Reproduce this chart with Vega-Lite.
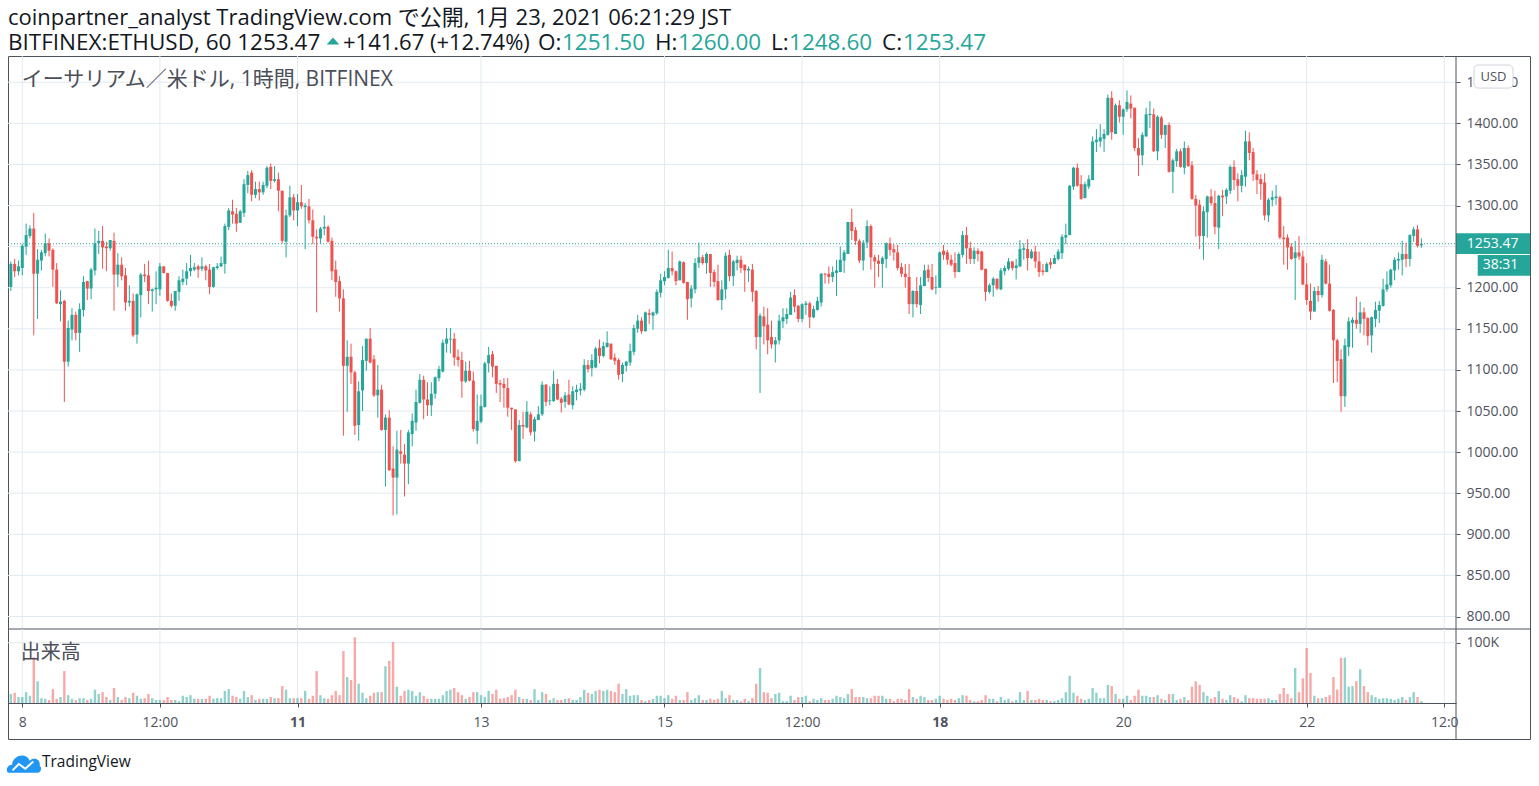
{
  "$schema": "https://vega.github.io/schema/vega-lite/v6.json",
  "width": 1522,
  "height": 683,
  "autosize": {"type": "none"},
  "padding": {"left": 8, "top": 56, "right": 9, "bottom": 47},
  "background": "#ffffff",
  "config": {
    "font": "Open Sans, Noto Sans CJK JP",
    "view": {"stroke": "#4c525e", "strokeWidth": 1},
    "axis": {"labelFont": "Open Sans", "labelFontSize": 14, "labelColor": "#50535e", "tickColor": "#50535e", "domainColor": "#4c525e", "tickSize": 4, "grid": false}
  },
  "datasets": {
    "py": [{"p":800},{"p":850},{"p":900},{"p":950},{"p":1000},{"p":1050},{"p":1100},{"p":1150},{"p":1200},{"p":1250},{"p":1300},{"p":1350},{"p":1400},{"p":1450}],
    "gx": [{"t":0},{"t":36},{"t":72},{"t":120},{"t":168},{"t":204},{"t":240},{"t":288},{"t":336},{"t":372}],
    "bars": [
{"t":-3,"o":1201,"h":1232,"l":1196,"c":1229,"v":15},
{"t":-2,"o":1229,"h":1235,"l":1213,"c":1220,"v":17},
{"t":-1,"o":1220,"h":1233,"l":1215,"c":1226,"v":10},
{"t":0,"o":1224,"h":1253,"l":1215,"c":1251,"v":10},
{"t":1,"o":1250,"h":1278,"l":1240,"c":1264,"v":18},
{"t":2,"o":1263,"h":1276,"l":1260,"c":1272,"v":12},
{"t":3,"o":1272,"h":1291,"l":1142,"c":1217,"v":76},
{"t":4,"o":1217,"h":1247,"l":1162,"c":1234,"v":36},
{"t":5,"o":1233,"h":1246,"l":1221,"c":1243,"v":8},
{"t":6,"o":1242,"h":1266,"l":1238,"c":1254,"v":7},
{"t":7,"o":1254,"h":1260,"l":1238,"c":1245,"v":5},
{"t":8,"o":1246,"h":1248,"l":1201,"c":1222,"v":23},
{"t":9,"o":1222,"h":1230,"l":1180,"c":1181,"v":7},
{"t":10,"o":1180,"h":1197,"l":1159,"c":1183,"v":10},
{"t":11,"o":1184,"h":1185,"l":1061,"c":1110,"v":53},
{"t":12,"o":1110,"h":1160,"l":1104,"c":1151,"v":13},
{"t":13,"o":1149,"h":1175,"l":1136,"c":1167,"v":7},
{"t":14,"o":1167,"h":1171,"l":1136,"c":1145,"v":5},
{"t":15,"o":1145,"h":1181,"l":1122,"c":1174,"v":8},
{"t":16,"o":1173,"h":1214,"l":1165,"c":1207,"v":8},
{"t":17,"o":1208,"h":1208,"l":1185,"c":1199,"v":5},
{"t":18,"o":1199,"h":1224,"l":1186,"c":1222,"v":7},
{"t":19,"o":1221,"h":1272,"l":1215,"c":1254,"v":22},
{"t":20,"o":1254,"h":1269,"l":1241,"c":1257,"v":15},
{"t":21,"o":1257,"h":1275,"l":1223,"c":1249,"v":18},
{"t":22,"o":1250,"h":1256,"l":1220,"c":1248,"v":10},
{"t":23,"o":1248,"h":1258,"l":1245,"c":1258,"v":5},
{"t":24,"o":1257,"h":1267,"l":1172,"c":1216,"v":25},
{"t":25,"o":1216,"h":1242,"l":1201,"c":1228,"v":10},
{"t":26,"o":1228,"h":1237,"l":1209,"c":1214,"v":5},
{"t":27,"o":1215,"h":1224,"l":1172,"c":1182,"v":10},
{"t":28,"o":1182,"h":1203,"l":1177,"c":1184,"v":8},
{"t":29,"o":1184,"h":1193,"l":1140,"c":1142,"v":17},
{"t":30,"o":1143,"h":1193,"l":1132,"c":1192,"v":12},
{"t":31,"o":1191,"h":1218,"l":1164,"c":1216,"v":7},
{"t":32,"o":1216,"h":1229,"l":1207,"c":1214,"v":8},
{"t":33,"o":1215,"h":1233,"l":1180,"c":1196,"v":15},
{"t":34,"o":1196,"h":1199,"l":1171,"c":1198,"v":8},
{"t":35,"o":1198,"h":1220,"l":1180,"c":1200,"v":5},
{"t":36,"o":1198,"h":1230,"l":1190,"c":1226,"v":5},
{"t":37,"o":1226,"h":1226,"l":1217,"c":1218,"v":5},
{"t":38,"o":1218,"h":1218,"l":1183,"c":1184,"v":10},
{"t":39,"o":1184,"h":1193,"l":1176,"c":1178,"v":5},
{"t":40,"o":1178,"h":1196,"l":1172,"c":1196,"v":5},
{"t":41,"o":1195,"h":1214,"l":1184,"c":1209,"v":3},
{"t":42,"o":1207,"h":1222,"l":1203,"c":1211,"v":12},
{"t":43,"o":1211,"h":1230,"l":1203,"c":1220,"v":10},
{"t":44,"o":1220,"h":1240,"l":1214,"c":1224,"v":13},
{"t":45,"o":1222,"h":1230,"l":1220,"c":1225,"v":7},
{"t":46,"o":1226,"h":1228,"l":1212,"c":1222,"v":7},
{"t":47,"o":1223,"h":1237,"l":1220,"c":1226,"v":7},
{"t":48,"o":1226,"h":1228,"l":1209,"c":1221,"v":7},
{"t":49,"o":1222,"h":1229,"l":1192,"c":1201,"v":12},
{"t":50,"o":1201,"h":1225,"l":1200,"c":1225,"v":7},
{"t":51,"o":1224,"h":1230,"l":1222,"c":1226,"v":8},
{"t":52,"o":1226,"h":1238,"l":1225,"c":1230,"v":8},
{"t":53,"o":1229,"h":1278,"l":1217,"c":1275,"v":20},
{"t":54,"o":1274,"h":1297,"l":1270,"c":1294,"v":23},
{"t":55,"o":1293,"h":1307,"l":1278,"c":1289,"v":12},
{"t":56,"o":1290,"h":1297,"l":1268,"c":1278,"v":10},
{"t":57,"o":1279,"h":1295,"l":1279,"c":1293,"v":7},
{"t":58,"o":1291,"h":1332,"l":1286,"c":1326,"v":20},
{"t":59,"o":1325,"h":1342,"l":1315,"c":1337,"v":10},
{"t":60,"o":1340,"h":1343,"l":1305,"c":1313,"v":13},
{"t":61,"o":1313,"h":1329,"l":1309,"c":1320,"v":5},
{"t":62,"o":1320,"h":1329,"l":1306,"c":1316,"v":7},
{"t":63,"o":1316,"h":1329,"l":1313,"c":1325,"v":7},
{"t":64,"o":1324,"h":1348,"l":1321,"c":1346,"v":7},
{"t":65,"o":1347,"h":1351,"l":1320,"c":1330,"v":10},
{"t":66,"o":1330,"h":1348,"l":1328,"c":1332,"v":8},
{"t":67,"o":1332,"h":1340,"l":1293,"c":1318,"v":8},
{"t":68,"o":1318,"h":1318,"l":1254,"c":1257,"v":28},
{"t":69,"o":1256,"h":1295,"l":1237,"c":1288,"v":22},
{"t":70,"o":1288,"h":1324,"l":1286,"c":1310,"v":8},
{"t":71,"o":1310,"h":1314,"l":1282,"c":1294,"v":8},
{"t":72,"o":1294,"h":1314,"l":1275,"c":1304,"v":8},
{"t":73,"o":1304,"h":1325,"l":1296,"c":1299,"v":8},
{"t":74,"o":1298,"h":1303,"l":1247,"c":1300,"v":20},
{"t":75,"o":1299,"h":1308,"l":1278,"c":1282,"v":7},
{"t":76,"o":1282,"h":1295,"l":1253,"c":1262,"v":12},
{"t":77,"o":1262,"h":1271,"l":1170,"c":1260,"v":53},
{"t":78,"o":1260,"h":1274,"l":1254,"c":1272,"v":13},
{"t":79,"o":1272,"h":1288,"l":1264,"c":1274,"v":8},
{"t":80,"o":1274,"h":1276,"l":1255,"c":1256,"v":7},
{"t":81,"o":1257,"h":1261,"l":1209,"c":1220,"v":13},
{"t":82,"o":1222,"h":1233,"l":1189,"c":1207,"v":20},
{"t":83,"o":1208,"h":1214,"l":1171,"c":1187,"v":13},
{"t":84,"o":1187,"h":1198,"l":1020,"c":1105,"v":86},
{"t":85,"o":1105,"h":1136,"l":1049,"c":1116,"v":43},
{"t":86,"o":1116,"h":1132,"l":1083,"c":1097,"v":38},
{"t":87,"o":1097,"h":1099,"l":1021,"c":1032,"v":109},
{"t":88,"o":1033,"h":1086,"l":1014,"c":1074,"v":32},
{"t":89,"o":1075,"h":1129,"l":1050,"c":1112,"v":17},
{"t":90,"o":1111,"h":1138,"l":1099,"c":1138,"v":8},
{"t":91,"o":1138,"h":1151,"l":1108,"c":1109,"v":12},
{"t":92,"o":1113,"h":1118,"l":1067,"c":1069,"v":17},
{"t":93,"o":1069,"h":1106,"l":1042,"c":1076,"v":18},
{"t":94,"o":1076,"h":1082,"l":1026,"c":1027,"v":18},
{"t":95,"o":1027,"h":1046,"l":958,"c":1042,"v":61},
{"t":96,"o":1042,"h":1051,"l":977,"c":978,"v":70},
{"t":97,"o":980,"h":1007,"l":923,"c":969,"v":101},
{"t":98,"o":969,"h":1026,"l":924,"c":1003,"v":27},
{"t":99,"o":1001,"h":1027,"l":986,"c":998,"v":12},
{"t":100,"o":997,"h":1010,"l":946,"c":986,"v":20},
{"t":101,"o":986,"h":1027,"l":961,"c":1024,"v":22},
{"t":102,"o":1022,"h":1047,"l":1007,"c":1038,"v":20},
{"t":103,"o":1036,"h":1076,"l":1026,"c":1061,"v":12},
{"t":104,"o":1060,"h":1095,"l":1059,"c":1088,"v":18},
{"t":105,"o":1088,"h":1093,"l":1040,"c":1064,"v":12},
{"t":106,"o":1064,"h":1085,"l":1044,"c":1057,"v":7},
{"t":107,"o":1057,"h":1085,"l":1044,"c":1071,"v":7},
{"t":108,"o":1071,"h":1092,"l":1065,"c":1091,"v":7},
{"t":109,"o":1090,"h":1105,"l":1086,"c":1101,"v":7},
{"t":110,"o":1098,"h":1137,"l":1097,"c":1133,"v":13},
{"t":111,"o":1132,"h":1151,"l":1121,"c":1138,"v":20},
{"t":112,"o":1137,"h":1151,"l":1120,"c":1138,"v":22},
{"t":113,"o":1138,"h":1145,"l":1105,"c":1115,"v":25},
{"t":114,"o":1116,"h":1125,"l":1104,"c":1112,"v":18},
{"t":115,"o":1112,"h":1122,"l":1066,"c":1086,"v":13},
{"t":116,"o":1086,"h":1110,"l":1084,"c":1099,"v":7},
{"t":117,"o":1099,"h":1111,"l":1086,"c":1087,"v":10},
{"t":118,"o":1087,"h":1098,"l":1025,"c":1028,"v":18},
{"t":119,"o":1026,"h":1070,"l":1010,"c":1038,"v":18},
{"t":120,"o":1037,"h":1070,"l":1035,"c":1056,"v":13},
{"t":121,"o":1055,"h":1110,"l":1054,"c":1108,"v":10},
{"t":122,"o":1108,"h":1128,"l":1097,"c":1118,"v":20},
{"t":123,"o":1119,"h":1123,"l":1091,"c":1104,"v":15},
{"t":124,"o":1105,"h":1105,"l":1072,"c":1083,"v":22},
{"t":125,"o":1084,"h":1088,"l":1061,"c":1082,"v":7},
{"t":126,"o":1083,"h":1090,"l":1054,"c":1078,"v":8},
{"t":127,"o":1078,"h":1090,"l":1043,"c":1054,"v":10},
{"t":128,"o":1054,"h":1054,"l":1027,"c":1052,"v":13},
{"t":129,"o":1052,"h":1052,"l":987,"c":989,"v":22},
{"t":130,"o":989,"h":1039,"l":989,"c":1033,"v":10},
{"t":131,"o":1033,"h":1049,"l":1016,"c":1031,"v":7},
{"t":132,"o":1030,"h":1062,"l":1029,"c":1049,"v":7},
{"t":133,"o":1046,"h":1049,"l":1020,"c":1024,"v":5},
{"t":134,"o":1025,"h":1043,"l":1013,"c":1040,"v":23},
{"t":135,"o":1039,"h":1056,"l":1039,"c":1046,"v":5},
{"t":136,"o":1046,"h":1086,"l":1044,"c":1082,"v":18},
{"t":137,"o":1082,"h":1083,"l":1056,"c":1061,"v":15},
{"t":138,"o":1062,"h":1080,"l":1057,"c":1063,"v":5},
{"t":139,"o":1062,"h":1099,"l":1061,"c":1083,"v":8},
{"t":140,"o":1083,"h":1089,"l":1063,"c":1064,"v":5},
{"t":141,"o":1065,"h":1067,"l":1048,"c":1060,"v":5},
{"t":142,"o":1061,"h":1073,"l":1054,"c":1069,"v":7},
{"t":143,"o":1070,"h":1088,"l":1057,"c":1058,"v":8},
{"t":144,"o":1057,"h":1080,"l":1052,"c":1074,"v":5},
{"t":145,"o":1073,"h":1082,"l":1063,"c":1076,"v":5},
{"t":146,"o":1075,"h":1084,"l":1069,"c":1077,"v":10},
{"t":147,"o":1076,"h":1113,"l":1074,"c":1106,"v":22},
{"t":148,"o":1106,"h":1112,"l":1097,"c":1101,"v":17},
{"t":149,"o":1102,"h":1119,"l":1092,"c":1112,"v":15},
{"t":150,"o":1103,"h":1128,"l":1102,"c":1126,"v":20},
{"t":151,"o":1127,"h":1137,"l":1108,"c":1117,"v":22},
{"t":152,"o":1117,"h":1134,"l":1115,"c":1129,"v":20},
{"t":153,"o":1128,"h":1147,"l":1127,"c":1133,"v":22},
{"t":154,"o":1132,"h":1132,"l":1112,"c":1113,"v":20},
{"t":155,"o":1115,"h":1120,"l":1106,"c":1111,"v":18},
{"t":156,"o":1112,"h":1114,"l":1088,"c":1094,"v":32},
{"t":157,"o":1095,"h":1109,"l":1085,"c":1106,"v":15},
{"t":158,"o":1105,"h":1111,"l":1098,"c":1110,"v":23},
{"t":159,"o":1109,"h":1132,"l":1105,"c":1123,"v":12},
{"t":160,"o":1122,"h":1155,"l":1118,"c":1151,"v":13},
{"t":161,"o":1150,"h":1167,"l":1145,"c":1160,"v":13},
{"t":162,"o":1160,"h":1164,"l":1144,"c":1147,"v":5},
{"t":163,"o":1147,"h":1171,"l":1147,"c":1170,"v":3},
{"t":164,"o":1169,"h":1174,"l":1156,"c":1167,"v":5},
{"t":165,"o":1166,"h":1171,"l":1149,"c":1170,"v":7},
{"t":166,"o":1169,"h":1198,"l":1167,"c":1195,"v":12},
{"t":167,"o":1194,"h":1217,"l":1188,"c":1209,"v":12},
{"t":168,"o":1208,"h":1220,"l":1203,"c":1213,"v":8},
{"t":169,"o":1212,"h":1246,"l":1211,"c":1224,"v":13},
{"t":170,"o":1224,"h":1244,"l":1215,"c":1220,"v":7},
{"t":171,"o":1220,"h":1221,"l":1203,"c":1208,"v":12},
{"t":172,"o":1209,"h":1233,"l":1209,"c":1232,"v":5},
{"t":173,"o":1231,"h":1232,"l":1205,"c":1206,"v":5},
{"t":174,"o":1207,"h":1207,"l":1161,"c":1186,"v":18},
{"t":175,"o":1187,"h":1203,"l":1176,"c":1199,"v":5},
{"t":176,"o":1198,"h":1236,"l":1193,"c":1230,"v":8},
{"t":177,"o":1230,"h":1255,"l":1224,"c":1237,"v":13},
{"t":178,"o":1237,"h":1240,"l":1228,"c":1230,"v":5},
{"t":179,"o":1230,"h":1243,"l":1217,"c":1241,"v":5},
{"t":180,"o":1241,"h":1241,"l":1201,"c":1218,"v":7},
{"t":181,"o":1219,"h":1222,"l":1201,"c":1207,"v":5},
{"t":182,"o":1208,"h":1228,"l":1184,"c":1185,"v":7},
{"t":183,"o":1185,"h":1209,"l":1173,"c":1198,"v":20},
{"t":184,"o":1198,"h":1243,"l":1186,"c":1239,"v":8},
{"t":185,"o":1240,"h":1246,"l":1208,"c":1214,"v":13},
{"t":186,"o":1214,"h":1234,"l":1202,"c":1232,"v":5},
{"t":187,"o":1230,"h":1239,"l":1221,"c":1234,"v":5},
{"t":188,"o":1234,"h":1239,"l":1218,"c":1224,"v":3},
{"t":189,"o":1228,"h":1228,"l":1195,"c":1221,"v":7},
{"t":190,"o":1221,"h":1226,"l":1207,"c":1223,"v":3},
{"t":191,"o":1222,"h":1229,"l":1183,"c":1195,"v":8},
{"t":192,"o":1196,"h":1197,"l":1125,"c":1140,"v":32},
{"t":193,"o":1140,"h":1169,"l":1072,"c":1166,"v":58},
{"t":194,"o":1165,"h":1177,"l":1131,"c":1153,"v":18},
{"t":195,"o":1155,"h":1175,"l":1119,"c":1136,"v":17},
{"t":196,"o":1140,"h":1160,"l":1126,"c":1131,"v":8},
{"t":197,"o":1131,"h":1140,"l":1109,"c":1136,"v":15},
{"t":198,"o":1136,"h":1167,"l":1131,"c":1160,"v":17},
{"t":199,"o":1159,"h":1175,"l":1151,"c":1164,"v":3},
{"t":200,"o":1162,"h":1175,"l":1156,"c":1168,"v":3},
{"t":201,"o":1167,"h":1195,"l":1167,"c":1188,"v":12},
{"t":202,"o":1191,"h":1198,"l":1170,"c":1177,"v":5},
{"t":203,"o":1178,"h":1179,"l":1158,"c":1162,"v":10},
{"t":204,"o":1162,"h":1181,"l":1158,"c":1180,"v":10},
{"t":205,"o":1179,"h":1184,"l":1167,"c":1181,"v":12},
{"t":206,"o":1181,"h":1183,"l":1151,"c":1164,"v":3},
{"t":207,"o":1164,"h":1178,"l":1163,"c":1174,"v":7},
{"t":208,"o":1173,"h":1189,"l":1172,"c":1184,"v":5},
{"t":209,"o":1182,"h":1218,"l":1177,"c":1217,"v":8},
{"t":210,"o":1217,"h":1218,"l":1205,"c":1216,"v":5},
{"t":211,"o":1217,"h":1226,"l":1205,"c":1213,"v":5},
{"t":212,"o":1213,"h":1226,"l":1207,"c":1219,"v":7},
{"t":213,"o":1218,"h":1234,"l":1190,"c":1221,"v":12},
{"t":214,"o":1219,"h":1250,"l":1219,"c":1234,"v":10},
{"t":215,"o":1233,"h":1246,"l":1218,"c":1243,"v":8},
{"t":216,"o":1241,"h":1280,"l":1241,"c":1280,"v":15},
{"t":217,"o":1280,"h":1296,"l":1258,"c":1269,"v":23},
{"t":218,"o":1270,"h":1274,"l":1252,"c":1257,"v":10},
{"t":219,"o":1257,"h":1259,"l":1230,"c":1233,"v":10},
{"t":220,"o":1233,"h":1258,"l":1221,"c":1255,"v":10},
{"t":221,"o":1255,"h":1282,"l":1248,"c":1275,"v":8},
{"t":222,"o":1275,"h":1277,"l":1222,"c":1237,"v":8},
{"t":223,"o":1237,"h":1240,"l":1200,"c":1232,"v":12},
{"t":224,"o":1233,"h":1240,"l":1213,"c":1229,"v":12},
{"t":225,"o":1229,"h":1238,"l":1200,"c":1236,"v":12},
{"t":226,"o":1235,"h":1255,"l":1224,"c":1254,"v":7},
{"t":227,"o":1254,"h":1261,"l":1239,"c":1246,"v":7},
{"t":228,"o":1247,"h":1253,"l":1233,"c":1243,"v":3},
{"t":229,"o":1243,"h":1252,"l":1221,"c":1224,"v":7},
{"t":230,"o":1225,"h":1230,"l":1213,"c":1217,"v":7},
{"t":231,"o":1217,"h":1229,"l":1200,"c":1213,"v":5},
{"t":232,"o":1213,"h":1229,"l":1168,"c":1180,"v":23},
{"t":233,"o":1180,"h":1197,"l":1164,"c":1196,"v":10},
{"t":234,"o":1196,"h":1213,"l":1176,"c":1180,"v":7},
{"t":235,"o":1179,"h":1213,"l":1168,"c":1203,"v":12},
{"t":236,"o":1202,"h":1228,"l":1202,"c":1221,"v":10},
{"t":237,"o":1222,"h":1228,"l":1207,"c":1212,"v":5},
{"t":238,"o":1213,"h":1229,"l":1197,"c":1198,"v":5},
{"t":239,"o":1200,"h":1215,"l":1192,"c":1201,"v":7},
{"t":240,"o":1200,"h":1244,"l":1200,"c":1243,"v":12},
{"t":241,"o":1245,"h":1252,"l":1234,"c":1240,"v":7},
{"t":242,"o":1243,"h":1246,"l":1228,"c":1234,"v":5},
{"t":243,"o":1234,"h":1240,"l":1226,"c":1228,"v":7},
{"t":244,"o":1230,"h":1243,"l":1212,"c":1219,"v":5},
{"t":245,"o":1219,"h":1243,"l":1219,"c":1241,"v":8},
{"t":246,"o":1240,"h":1269,"l":1237,"c":1264,"v":13},
{"t":247,"o":1264,"h":1274,"l":1229,"c":1248,"v":12},
{"t":248,"o":1248,"h":1256,"l":1229,"c":1235,"v":5},
{"t":249,"o":1235,"h":1249,"l":1229,"c":1245,"v":3},
{"t":250,"o":1245,"h":1248,"l":1232,"c":1241,"v":3},
{"t":251,"o":1244,"h":1245,"l":1221,"c":1222,"v":5},
{"t":252,"o":1223,"h":1223,"l":1184,"c":1195,"v":13},
{"t":253,"o":1195,"h":1205,"l":1193,"c":1203,"v":7},
{"t":254,"o":1203,"h":1213,"l":1189,"c":1211,"v":7},
{"t":255,"o":1211,"h":1211,"l":1197,"c":1199,"v":3},
{"t":256,"o":1198,"h":1224,"l":1197,"c":1221,"v":10},
{"t":257,"o":1220,"h":1227,"l":1215,"c":1224,"v":5},
{"t":258,"o":1223,"h":1236,"l":1221,"c":1232,"v":7},
{"t":259,"o":1232,"h":1232,"l":1221,"c":1224,"v":3},
{"t":260,"o":1224,"h":1235,"l":1210,"c":1227,"v":5},
{"t":261,"o":1226,"h":1258,"l":1225,"c":1247,"v":18},
{"t":262,"o":1246,"h":1254,"l":1234,"c":1248,"v":5},
{"t":263,"o":1247,"h":1259,"l":1221,"c":1236,"v":20},
{"t":264,"o":1236,"h":1247,"l":1235,"c":1244,"v":5},
{"t":265,"o":1244,"h":1251,"l":1224,"c":1232,"v":5},
{"t":266,"o":1232,"h":1244,"l":1213,"c":1219,"v":7},
{"t":267,"o":1221,"h":1229,"l":1215,"c":1219,"v":5},
{"t":268,"o":1219,"h":1231,"l":1219,"c":1229,"v":5},
{"t":269,"o":1231,"h":1236,"l":1223,"c":1228,"v":3},
{"t":270,"o":1229,"h":1240,"l":1229,"c":1236,"v":3},
{"t":271,"o":1235,"h":1247,"l":1233,"c":1244,"v":5},
{"t":272,"o":1242,"h":1265,"l":1235,"c":1262,"v":8},
{"t":273,"o":1261,"h":1278,"l":1253,"c":1264,"v":18},
{"t":274,"o":1264,"h":1325,"l":1264,"c":1324,"v":45},
{"t":275,"o":1323,"h":1347,"l":1319,"c":1346,"v":17},
{"t":276,"o":1346,"h":1351,"l":1323,"c":1324,"v":12},
{"t":277,"o":1326,"h":1337,"l":1307,"c":1308,"v":7},
{"t":278,"o":1309,"h":1329,"l":1309,"c":1326,"v":5},
{"t":279,"o":1323,"h":1337,"l":1320,"c":1332,"v":7},
{"t":280,"o":1331,"h":1384,"l":1331,"c":1378,"v":25},
{"t":281,"o":1377,"h":1393,"l":1365,"c":1380,"v":17},
{"t":282,"o":1378,"h":1399,"l":1371,"c":1383,"v":8},
{"t":283,"o":1381,"h":1393,"l":1365,"c":1387,"v":8},
{"t":284,"o":1386,"h":1435,"l":1385,"c":1431,"v":30},
{"t":285,"o":1431,"h":1439,"l":1380,"c":1389,"v":28},
{"t":286,"o":1387,"h":1424,"l":1387,"c":1422,"v":15},
{"t":287,"o":1422,"h":1428,"l":1401,"c":1408,"v":7},
{"t":288,"o":1408,"h":1418,"l":1386,"c":1417,"v":7},
{"t":289,"o":1417,"h":1440,"l":1414,"c":1426,"v":12},
{"t":290,"o":1424,"h":1434,"l":1406,"c":1418,"v":5},
{"t":291,"o":1419,"h":1419,"l":1366,"c":1370,"v":12},
{"t":292,"o":1370,"h":1382,"l":1336,"c":1361,"v":22},
{"t":293,"o":1361,"h":1389,"l":1349,"c":1386,"v":12},
{"t":294,"o":1384,"h":1419,"l":1384,"c":1411,"v":12},
{"t":295,"o":1410,"h":1427,"l":1394,"c":1411.5,"v":10},
{"t":296,"o":1411,"h":1418,"l":1365,"c":1366,"v":10},
{"t":297,"o":1366,"h":1410,"l":1355,"c":1408,"v":13},
{"t":298,"o":1407,"h":1409,"l":1381,"c":1386,"v":7},
{"t":299,"o":1386,"h":1398,"l":1370,"c":1398,"v":5},
{"t":300,"o":1398,"h":1401,"l":1340,"c":1341,"v":15},
{"t":301,"o":1341,"h":1357,"l":1315,"c":1355,"v":15},
{"t":302,"o":1354,"h":1369,"l":1347,"c":1366,"v":5},
{"t":303,"o":1366,"h":1369,"l":1346,"c":1347,"v":7},
{"t":304,"o":1346,"h":1378,"l":1338,"c":1370,"v":10},
{"t":305,"o":1370,"h":1373,"l":1347,"c":1348,"v":5},
{"t":306,"o":1349,"h":1354,"l":1307,"c":1308,"v":27},
{"t":307,"o":1308,"h":1313,"l":1262,"c":1300,"v":36},
{"t":308,"o":1301,"h":1307,"l":1247,"c":1263,"v":30},
{"t":309,"o":1263,"h":1299,"l":1234,"c":1293,"v":18},
{"t":310,"o":1292,"h":1312,"l":1261,"c":1311,"v":12},
{"t":311,"o":1311,"h":1320,"l":1300,"c":1303,"v":7},
{"t":312,"o":1303,"h":1318,"l":1265,"c":1274,"v":10},
{"t":313,"o":1273,"h":1313,"l":1247,"c":1312,"v":20},
{"t":314,"o":1312,"h":1319,"l":1287,"c":1310,"v":7},
{"t":315,"o":1311,"h":1321,"l":1302,"c":1319,"v":5},
{"t":316,"o":1318,"h":1349,"l":1314,"c":1347,"v":13},
{"t":317,"o":1347,"h":1355,"l":1319,"c":1331,"v":10},
{"t":318,"o":1332,"h":1339,"l":1305,"c":1324,"v":7},
{"t":319,"o":1324,"h":1343,"l":1316,"c":1337,"v":3},
{"t":320,"o":1335,"h":1391,"l":1323,"c":1378,"v":13},
{"t":321,"o":1378,"h":1389,"l":1355,"c":1364,"v":8},
{"t":322,"o":1365,"h":1370,"l":1330,"c":1338,"v":8},
{"t":323,"o":1338,"h":1343,"l":1314,"c":1331,"v":7},
{"t":324,"o":1332,"h":1338,"l":1307,"c":1326,"v":7},
{"t":325,"o":1328,"h":1339,"l":1282,"c":1288,"v":7},
{"t":326,"o":1288,"h":1309,"l":1280,"c":1307,"v":8},
{"t":327,"o":1307,"h":1318,"l":1299,"c":1310,"v":5},
{"t":328,"o":1309,"h":1325,"l":1301,"c":1311,"v":5},
{"t":329,"o":1310,"h":1312,"l":1259,"c":1261,"v":15},
{"t":330,"o":1261,"h":1275,"l":1228,"c":1259,"v":25},
{"t":331,"o":1261,"h":1265,"l":1222,"c":1249,"v":15},
{"t":332,"o":1250,"h":1254,"l":1234,"c":1235,"v":8},
{"t":333,"o":1236,"h":1257,"l":1185,"c":1243,"v":58},
{"t":334,"o":1243,"h":1263,"l":1234,"c":1238,"v":18},
{"t":335,"o":1238,"h":1245,"l":1203,"c":1204,"v":41},
{"t":336,"o":1204,"h":1230,"l":1179,"c":1185,"v":91},
{"t":337,"o":1184,"h":1205,"l":1161,"c":1171,"v":50},
{"t":338,"o":1171,"h":1201,"l":1171,"c":1196,"v":12},
{"t":339,"o":1196,"h":1202,"l":1183,"c":1191,"v":8},
{"t":340,"o":1191,"h":1240,"l":1188,"c":1234,"v":8},
{"t":341,"o":1232,"h":1235,"l":1204,"c":1205,"v":10},
{"t":342,"o":1205,"h":1228,"l":1171,"c":1172,"v":13},
{"t":343,"o":1173,"h":1174,"l":1084,"c":1136,"v":43},
{"t":344,"o":1136,"h":1138,"l":1085,"c":1111,"v":22},
{"t":345,"o":1113,"h":1125,"l":1049,"c":1068,"v":75},
{"t":346,"o":1068,"h":1138,"l":1055,"c":1130,"v":75},
{"t":347,"o":1128,"h":1164,"l":1117,"c":1159,"v":27},
{"t":348,"o":1157,"h":1164,"l":1127,"c":1161,"v":28},
{"t":349,"o":1161,"h":1189,"l":1150,"c":1156,"v":36},
{"t":350,"o":1156,"h":1183,"l":1145,"c":1170,"v":56},
{"t":351,"o":1170,"h":1176,"l":1142,"c":1162,"v":28},
{"t":352,"o":1163,"h":1164,"l":1130,"c":1141,"v":18},
{"t":353,"o":1142,"h":1165,"l":1121,"c":1164,"v":13},
{"t":354,"o":1162,"h":1183,"l":1152,"c":1173,"v":10},
{"t":355,"o":1172,"h":1184,"l":1157,"c":1179,"v":7},
{"t":356,"o":1178,"h":1211,"l":1177,"c":1198,"v":8},
{"t":357,"o":1198,"h":1220,"l":1195,"c":1204,"v":8},
{"t":358,"o":1203,"h":1223,"l":1200,"c":1222,"v":7},
{"t":359,"o":1221,"h":1237,"l":1209,"c":1234,"v":5},
{"t":360,"o":1233,"h":1243,"l":1222,"c":1235,"v":7},
{"t":361,"o":1234,"h":1257,"l":1215,"c":1241,"v":10},
{"t":362,"o":1241,"h":1255,"l":1225,"c":1235,"v":5},
{"t":363,"o":1235,"h":1265,"l":1226,"c":1264,"v":10},
{"t":364,"o":1263,"h":1274,"l":1256,"c":1271,"v":18},
{"t":365,"o":1271,"h":1276,"l":1249,"c":1251,"v":10},
{"t":366,"o":1251.5,"h":1260,"l":1248.6,"c":1253.47,"v":3}
    ]
  },
  "data": {"name": "bars"},
  "layer": [
    {
      "layer": [
        {
          "data": {"name": "py"},
          "mark": {"type": "rule", "color": "#e1eaf1", "strokeWidth": 1},
          "encoding": {
            "y": {"field": "p", "type": "quantitative"},
            "x": {"datum": -3.74},
            "x2": {"datum": 375.07}
          }
        },
        {
          "data": {"name": "gx"},
          "mark": {"type": "rule", "color": "#e1eaf1", "strokeWidth": 1},
          "encoding": {
            "x": {"field": "t", "type": "quantitative"},
            "y": {"datum": 1481.9},
            "y2": {"datum": 784.8}
          }
        },
        {
          "data": {"values": [{}]},
          "mark": {"type": "rule", "color": "#26a69a", "strokeWidth": 1, "strokeDash": [1, 2]},
          "encoding": {
            "y": {"datum": 1253.47},
            "x": {"datum": -3.74},
            "x2": {"datum": 375.07}
          }
        },
        {
          "mark": {"type": "rule", "strokeWidth": 1},
          "encoding": {
            "x": {
              "field": "t", "type": "quantitative",
              "scale": {"domain": [-3.74, 375.07], "range": [0, 1448], "nice": false, "zero": false, "padding": 0},
              "axis": {
                "orient": "bottom", "offset": -36, "title": null,
                "values": [0, 36, 72, 120, 168, 204, 240, 288, 336, 372],
                "labelExpr": "datum.value == 0 ? '8' : datum.value == 36 ? '12:00' : datum.value == 72 ? '11' : datum.value == 120 ? '13' : datum.value == 168 ? '15' : datum.value == 204 ? '12:00' : datum.value == 240 ? '18' : datum.value == 288 ? '20' : datum.value == 336 ? '22' : '12:0'",
                "labelFontWeight": {"condition": {"test": "datum.value == 72 || datum.value == 240", "value": "bold"}, "value": "normal"},
                "labelPadding": 8, "labelFlush": false, "labelOverlap": false, "labelBound": false
              }
            },
            "y": {
              "field": "l", "type": "quantitative",
              "scale": {"domain": [784.8, 1481.9], "range": [573, 0], "nice": false, "zero": false},
              "axis": {
                "orient": "right", "offset": -74, "title": null,
                "values": [800, 850, 900, 950, 1000, 1050, 1100, 1150, 1200, 1300, 1350, 1400, 1450],
                "format": ".2f", "domain": false, "labelPadding": 6, "labelFlush": false, "labelOverlap": false, "labelBaseline": "middle"
              }
            },
            "y2": {"field": "h"},
            "color": {"condition": {"test": "datum.c >= datum.o", "value": "#26a69a"}, "value": "#ef5350"}
          }
        },
        {
          "mark": {"type": "bar", "size": 3},
          "encoding": {
            "x": {"field": "t", "type": "quantitative"},
            "y": {"field": "o", "type": "quantitative"},
            "y2": {"field": "c"},
            "color": {"condition": {"test": "datum.c >= datum.o", "value": "#26a69a"}, "value": "#ef5350"}
          }
        },
        {
          "data": {"values": [{}]},
          "mark": {"type": "rect", "color": "#26a69a"},
          "encoding": {
            "x": {"datum": 375.07}, "x2": {"datum": 394.43},
            "y": {"datum": 1266.2}, "y2": {"datum": 1241.0}
          }
        },
        {
          "data": {"values": [{}]},
          "mark": {"type": "text", "align": "left", "baseline": "middle", "fontSize": 14, "color": "#ffffff", "font": "Open Sans"},
          "encoding": {
            "x": {"datum": 377.87}, "y": {"datum": 1253.5},
            "text": {"value": "1253.47"}
          }
        },
        {
          "data": {"values": [{}]},
          "mark": {"type": "rect", "color": "#26a69a"},
          "encoding": {
            "x": {"datum": 380.75}, "x2": {"datum": 394.43},
            "y": {"datum": 1239.8}, "y2": {"datum": 1214.6}
          }
        },
        {
          "data": {"values": [{}]},
          "mark": {"type": "text", "align": "center", "baseline": "middle", "fontSize": 14, "color": "#ffffff", "font": "Open Sans"},
          "encoding": {
            "x": {"datum": 386.71}, "y": {"datum": 1227.3},
            "text": {"value": "38:31"}
          }
        },
        {
          "data": {"values": [{}]},
          "mark": {"type": "rect", "fill": "#ffffff", "stroke": "#d1d4dc", "strokeWidth": 1, "cornerRadius": 4},
          "encoding": {
            "x": {"datum": 379.78}, "x2": {"datum": 389.98},
            "y": {"datum": 1470.9}, "y2": {"datum": 1442.9}
          }
        },
        {
          "data": {"values": [{}]},
          "mark": {"type": "text", "align": "center", "baseline": "middle", "fontSize": 13, "color": "#50535e", "font": "Open Sans"},
          "encoding": {
            "x": {"datum": 384.88}, "y": {"datum": 1456.3},
            "text": {"value": "USD"}
          }
        },
        {
          "data": {"values": [{}]},
          "mark": {"type": "text", "align": "left", "baseline": "alphabetic", "fontSize": 21, "color": "#4c4f5a"},
          "encoding": {
            "x": {"datum": -0.156}, "y": {"datum": 1445.4},
            "text": {"value": "イーサリアム／米ドル, 1時間, BITFINEX"}
          }
        },
        {
          "data": {"values": [{}]},
          "mark": {"type": "text", "align": "left", "baseline": "alphabetic", "fontSize": 22, "color": "#131722"},
          "encoding": {
            "x": {"datum": -3.74}, "y": {"datum": 1519.6},
            "text": {"value": "coinpartner_analyst TradingView.com で公開, 1月 23, 2021 06:21:29 JST"}
          }
        },
        {
          "data": {"values": [{}]},
          "mark": {"type": "text", "align": "left", "baseline": "alphabetic", "fontSize": 22.5, "color": "#131722"},
          "encoding": {
            "x": {"datum": -3.74}, "y": {"datum": 1489.8},
            "text": {"value": "BITFINEX:ETHUSD, 60 1253.47"}
          }
        },
        {
          "data": {"values": [{}]},
          "mark": {"type": "point", "shape": "M -1 0.55 L 1 0.55 L 0 -0.55 Z", "size": 160, "filled": true, "color": "#26a69a", "opacity": 1},
          "encoding": {
            "x": {"datum": 81.28}, "y": {"datum": 1500.1}
          }
        },
        {
          "data": {"values": [{}]},
          "mark": {"type": "text", "align": "left", "baseline": "alphabetic", "fontSize": 22, "color": "#131722"},
          "encoding": {
            "x": {"datum": 83.90}, "y": {"datum": 1489.8},
            "text": {"value": "+141.67 (+12.74%)"}
          }
        },
        {
          "data": {"values": [{}]},
          "mark": {"type": "text", "align": "left", "baseline": "alphabetic", "fontSize": 22.5, "color": "#131722"},
          "encoding": {
            "x": {"datum": 134.91}, "y": {"datum": 1489.8},
            "text": {"value": "O:"}
          }
        },
        {
          "data": {"values": [{}]},
          "mark": {"type": "text", "align": "left", "baseline": "alphabetic", "fontSize": 22.5, "color": "#26a69a"},
          "encoding": {
            "x": {"datum": 141.19}, "y": {"datum": 1489.8},
            "text": {"value": "1251.50"}
          }
        },
        {
          "data": {"values": [{}]},
          "mark": {"type": "text", "align": "left", "baseline": "alphabetic", "fontSize": 22.5, "color": "#131722"},
          "encoding": {
            "x": {"datum": 165.52}, "y": {"datum": 1489.8},
            "text": {"value": "H:"}
          }
        },
        {
          "data": {"values": [{}]},
          "mark": {"type": "text", "align": "left", "baseline": "alphabetic", "fontSize": 22.5, "color": "#26a69a"},
          "encoding": {
            "x": {"datum": 171.54}, "y": {"datum": 1489.8},
            "text": {"value": "1260.00"}
          }
        },
        {
          "data": {"values": [{}]},
          "mark": {"type": "text", "align": "left", "baseline": "alphabetic", "fontSize": 22.5, "color": "#131722"},
          "encoding": {
            "x": {"datum": 195.87}, "y": {"datum": 1489.8},
            "text": {"value": "L:"}
          }
        },
        {
          "data": {"values": [{}]},
          "mark": {"type": "text", "align": "left", "baseline": "alphabetic", "fontSize": 22.5, "color": "#26a69a"},
          "encoding": {
            "x": {"datum": 200.58}, "y": {"datum": 1489.8},
            "text": {"value": "1248.60"}
          }
        },
        {
          "data": {"values": [{}]},
          "mark": {"type": "text", "align": "left", "baseline": "alphabetic", "fontSize": 22.5, "color": "#131722"},
          "encoding": {
            "x": {"datum": 224.91}, "y": {"datum": 1489.8},
            "text": {"value": "C:"}
          }
        },
        {
          "data": {"values": [{}]},
          "mark": {"type": "text", "align": "left", "baseline": "alphabetic", "fontSize": 22.5, "color": "#26a69a"},
          "encoding": {
            "x": {"datum": 230.40}, "y": {"datum": 1489.8},
            "text": {"value": "1253.47"}
          }
        },
        {
          "data": {"values": [{}]},
          "mark": {"type": "point", "shape": "M -0.95 0.55 C -1.15 0.55 -1.12 0.05 -0.75 0.05 C -0.7 -0.55 0.15 -0.75 0.35 -0.2 C 0.6 -0.45 1.05 -0.3 0.98 0.1 C 1.15 0.25 1.05 0.55 0.85 0.55 Z", "size": 1024, "filled": true, "color": "#2196f3", "opacity": 1},
          "encoding": {
            "x": {"datum": 0.446}, "y": {"datum": 620.6}
          }
        },
        {
          "data": {"values": [{}]},
          "mark": {"type": "point", "shape": "M -0.72 0.4 L -0.32 0.0 L 0.08 0.3 L 0.58 -0.15", "size": 1024, "filled": false, "stroke": "#ffffff", "strokeWidth": 2, "opacity": 1},
          "encoding": {
            "x": {"datum": 0.446}, "y": {"datum": 620.6}
          }
        },
        {
          "data": {"values": [{}]},
          "mark": {"type": "text", "align": "left", "baseline": "alphabetic", "fontSize": 15.5, "color": "#131722"},
          "encoding": {
            "x": {"datum": 5.155}, "y": {"datum": 616.9},
            "text": {"value": "TradingView"}
          }
        },
        {
          "data": {"values": [{}]},
          "mark": {"type": "rule", "color": "#4c525e", "strokeWidth": 1},
          "encoding": {"y": {"datum": 784.8}}
        },
        {
          "data": {"values": [{}]},
          "mark": {"type": "rule", "color": "#4c525e", "strokeWidth": 1},
          "encoding": {"x": {"datum": 375.07}}
        }
      ]
    },
    {
      "layer": [
        {
          "data": {"name": "gx"},
          "mark": {"type": "rule", "color": "#e1eaf1", "strokeWidth": 1},
          "encoding": {
            "x": {"field": "t", "type": "quantitative"},
            "y": {"datum": 0},
            "y2": {"datum": 122.7}
          }
        },
        {
          "data": {"values": [{}]},
          "mark": {"type": "rule", "color": "#e1eaf1", "strokeWidth": 1},
          "encoding": {
            "y": {"datum": 100},
            "x": {"datum": -3.74},
            "x2": {"datum": 375.07}
          }
        },
        {
          "mark": {"type": "bar", "size": 2.4, "opacity": 0.5},
          "encoding": {
            "x": {"field": "t", "type": "quantitative"},
            "y": {
              "field": "v", "type": "quantitative",
              "scale": {"domain": [0, 122.7], "range": [647, 573], "nice": false, "zero": true},
              "axis": {"orient": "right", "offset": -74, "title": null, "values": [100], "labelExpr": "'100K'", "domain": false, "labelPadding": 6, "labelFlush": false, "labelBaseline": "middle"}
            },
            "color": {"condition": {"test": "datum.c >= datum.o", "value": "#26a69a"}, "value": "#ef5350"}
          }
        },
        {
          "data": {"values": [{}]},
          "mark": {"type": "text", "align": "left", "baseline": "alphabetic", "fontSize": 20, "color": "#4c4f5a"},
          "encoding": {
            "x": {"datum": -0.418}, "y": {"datum": 73},
            "text": {"value": "出来高"}
          }
        }
      ]
    }
  ],
  "resolve": {"scale": {"y": "independent"}}
}
